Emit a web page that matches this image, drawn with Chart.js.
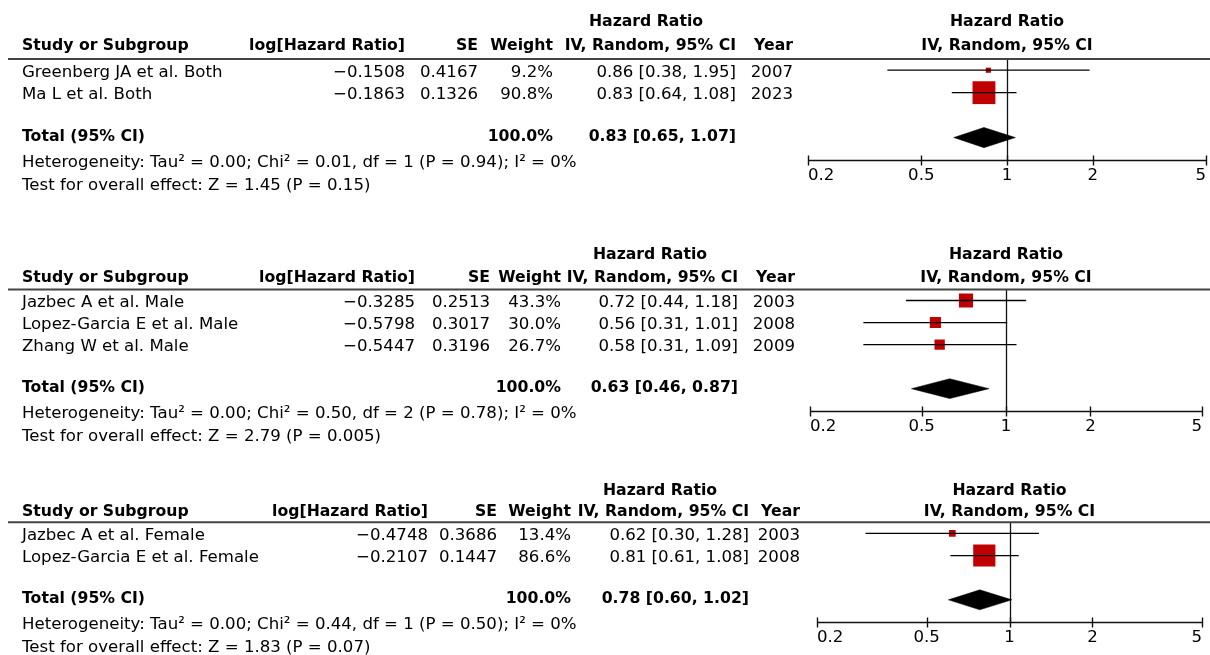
<!DOCTYPE html>
<html>
<head>
<meta charset="utf-8">
<script src="https://cdn.jsdelivr.net/npm/chart.js@4.4.1/dist/chart.umd.min.js"></script>
<style>
  html, body { margin: 0; padding: 0; background: #fff; }
  #wrap { position: relative; width: 1210px; height: 655px; overflow: hidden; }
  #wrap canvas { position: absolute; left: 0; top: 0; }
</style>
</head>
<body>
<div id="wrap">
  <canvas id="p1" width="1210" height="655"></canvas>
  <canvas id="p2" width="1210" height="655"></canvas>
  <canvas id="p3" width="1210" height="655"></canvas>
</div>
<script>
'use strict';

/* eje común (HR, escala log) */
const tickVals = [0.2, 0.5, 1, 2, 5];
const tickLabels = ['0.2', '0.5', '1', '2', '5'];

/* ambos sexos */
const bothStudy  = ['Greenberg JA et al. Both', 'Ma L et al. Both'];
const bothLogHR  = [-0.1508, -0.1863];
const bothSE     = [0.4167, 0.1326];
const bothWeight = [9.2, 90.8];
const bothHR     = [0.86, 0.83];
const bothLo     = [0.38, 0.64];
const bothHi     = [1.95, 1.08];
const bothYear   = [2007, 2023];
const bothTotal  = [0.83, 0.65, 1.07];
const bothHet    = ['0.00', '0.01', '1', '0.94', '0'];
const bothZ      = ['1.45', '0.15'];

/* hombres */
const maleStudy  = ['Jazbec A et al. Male', 'Lopez-Garcia E et al. Male', 'Zhang W et al. Male'];
const maleLogHR  = [-0.3285, -0.5798, -0.5447];
const maleSE     = [0.2513, 0.3017, 0.3196];
const maleWeight = [43.3, 30.0, 26.7];
const maleHR     = [0.72, 0.56, 0.58];
const maleLo     = [0.44, 0.31, 0.31];
const maleHi     = [1.18, 1.01, 1.09];
const maleYear   = [2003, 2008, 2009];
const maleTotal  = [0.63, 0.46, 0.87];
const maleHet    = ['0.00', '0.50', '2', '0.78', '0'];
const maleZ      = ['2.79', '0.005'];

/* mujeres */
const femStudy  = ['Jazbec A et al. Female', 'Lopez-Garcia E et al. Female'];
const femLogHR  = [-0.4748, -0.2107];
const femSE     = [0.3686, 0.1447];
const femWeight = [13.4, 86.6];
const femHR     = [0.62, 0.81];
const femLo     = [0.30, 0.61];
const femHi     = [1.28, 1.08];
const femYear   = [2003, 2008];
const femTotal  = [0.78, 0.60, 1.02];
const femHet    = ['0.00', '0.44', '1', '0.50', '0'];
const femZ      = ['1.83', '0.07'];

/* paneles: datos + posición en la página */
const panels = [
  { id: 'p1', study: bothStudy, logHR: bothLogHR, se: bothSE, weight: bothWeight, hr: bothHR, lo: bothLo, hi: bothHi, year: bothYear, total: bothTotal, het: bothHet, z: bothZ,
    box: { l: 808, r: 1206, top: 59, bot: 160 }, cols: { log: 405, se: 478, wt: 553, ci: 736, hr: 646, yr: 793 }, head: [-37, -13] },
  { id: 'p2', study: maleStudy, logHR: maleLogHR, se: maleSE, weight: maleWeight, hr: maleHR, lo: maleLo, hi: maleHi, year: maleYear, total: maleTotal, het: maleHet, z: maleZ,
    box: { l: 810, r: 1202, top: 289.5, bot: 410.7 }, cols: { log: 415, se: 490, wt: 561, ci: 738, hr: 650, yr: 795 }, head: [-35, -12] },
  { id: 'p3', study: femStudy, logHR: femLogHR, se: femSE, weight: femWeight, hr: femHR, lo: femLo, hi: femHi, year: femYear, total: femTotal, het: femHet, z: femZ,
    box: { l: 817, r: 1202, top: 522.3, bot: 622 }, cols: { log: 428, se: 497, wt: 571, ci: 749, hr: 660, yr: 800 }, head: [-31.5, -10.5] },
];

const FONT = '"DejaVu Sans", sans-serif';
const FS = 16.6, FSB = 15.7;   // normal / negrita
const RED = '#C00000';
const minus = s => s.replace('-', '\u2212');
const ci = (e, l, h) => `${e.toFixed(2)} [${l.toFixed(2)}, ${h.toFixed(2)}]`;
const sqSide = w => 1.22 * Math.pow(w, 0.65);   // tamaño del cuadrado según peso

function forestPlugin(p) {
  return {
    id: 'forest',
    beforeDatasetsDraw(chart) {
      const { ctx, chartArea: a, scales: { x } } = chart;
      const px = Math.round(x.getPixelForValue(1)) + 0.5;
      ctx.save();
      ctx.strokeStyle = '#111'; ctx.lineWidth = 1.3;
      ctx.beginPath(); ctx.moveTo(px, a.top); ctx.lineTo(px, a.bottom); ctx.stroke();
      ctx.restore();
    },
    afterDraw(chart) {
      const { ctx, chartArea: a, scales: { x, y } } = chart;
      const c = p.cols;
      const n = p.study.length;
      ctx.save();
      ctx.fillStyle = '#000';
      ctx.textBaseline = 'middle';
      const t = (s, tx, ty, align = 'left', bold = false) => {
        ctx.font = bold ? `bold ${FSB}px ${FONT}` : `${FS}px ${FONT}`;
        ctx.textAlign = align;
        ctx.fillText(s, tx, ty);
      };

      // línea de cabecera
      ctx.strokeStyle = '#444'; ctx.lineWidth = 2;
      ctx.beginPath(); ctx.moveTo(8, a.top); ctx.lineTo(1210, a.top); ctx.stroke();

      // cabeceras
      const h1 = a.top + p.head[0], h2 = a.top + p.head[1];
      const mid = (a.left + a.right) / 2;
      t('Hazard Ratio', c.hr, h1, 'center', true);
      t('Hazard Ratio', mid, h1, 'center', true);
      t('Study or Subgroup', 22, h2, 'left', true);
      t('log[Hazard Ratio]', c.log, h2, 'right', true);
      t('SE', c.se, h2, 'right', true);
      t('Weight', c.wt, h2, 'right', true);
      t('IV, Random, 95% CI', c.ci, h2, 'right', true);
      t('Year', c.yr, h2, 'right', true);
      t('IV, Random, 95% CI', mid, h2, 'center', true);

      // filas de estudios
      p.study.forEach((s, i) => {
        const ry = y.getPixelForValue(i + 1) + 2;
        t(s, 22, ry);
        t(minus(p.logHR[i].toFixed(4)), c.log, ry, 'right');
        t(p.se[i].toFixed(4), c.se, ry, 'right');
        t(p.weight[i].toFixed(1) + '%', c.wt, ry, 'right');
        t(ci(p.hr[i], p.lo[i], p.hi[i]), c.ci, ry, 'right');
        t(String(p.year[i]), c.yr, ry, 'right');
      });

      // total
      const ty = y.getPixelForValue(n + 2) - 1;
      t('Total (95% CI)', 22, ty, 'left', true);
      t('100.0%', c.wt, ty, 'right', true);
      t(ci(p.total[0], p.total[1], p.total[2]), c.ci, ty, 'right', true);
      const [tau, chi, df, ph, i2] = p.het;
      t(`Heterogeneity: Tau\u00B2 = ${tau}; Chi\u00B2 = ${chi}, df = ${df} (P = ${ph}); I\u00B2 = ${i2}%`, 22, ty + 26);
      t(`Test for overall effect: Z = ${p.z[0]} (P = ${p.z[1]})`, 22, ty + 49);

      // eje x
      const ay = Math.round(a.bottom) + 0.5;
      ctx.strokeStyle = '#111'; ctx.lineWidth = 1.4;
      ctx.beginPath(); ctx.moveTo(a.left, ay); ctx.lineTo(a.right, ay);
      tickVals.forEach(v => {
        const tx = Math.round(x.getPixelForValue(v)) + 0.5;
        ctx.moveTo(tx, ay - 5); ctx.lineTo(tx, ay + 5);
      });
      ctx.stroke();
      tickVals.forEach((v, i) => {
        const tx = x.getPixelForValue(v);
        const al = i === 0 ? 'left' : i === tickVals.length - 1 ? 'right' : 'center';
        t(tickLabels[i], tx, ay + 15, al);
      });
      ctx.restore();
    },
  };
}

function build(p) {
  const n = p.study.length;
  const whiskers = p.lo.map((lo, i) => ({
    type: 'scatter', showLine: true, borderColor: '#000', borderWidth: 1.3, pointRadius: 0,
    data: [{ x: lo, y: i + 1 }, { x: p.hi[i], y: i + 1 }],
  }));
  const squares = {
    type: 'scatter', pointStyle: 'rect', backgroundColor: RED, borderWidth: 0,
    pointRadius: p.weight.map(w => sqSide(w) / Math.SQRT2),
    data: p.hr.map((v, i) => ({ x: v, y: i + 1 })),
  };
  const ty = n + 2, dh = 0.45;
  const [est, lo, hi] = p.total;
  const diamond = {
    type: 'line', fill: 'shape', backgroundColor: '#000', borderColor: '#000', borderWidth: 0.5, pointRadius: 0, tension: 0,
    data: [{ x: lo, y: ty }, { x: est, y: ty - dh }, { x: hi, y: ty }, { x: est, y: ty + dh }, { x: lo, y: ty }],
  };
  return new Chart(document.getElementById(p.id), {
    type: 'scatter',
    data: { datasets: [...whiskers, diamond, squares] },
    options: {
      responsive: false, animation: false, events: [],
      layout: { autoPadding: false, padding: { left: p.box.l, right: 1210 - p.box.r, top: p.box.top, bottom: 655 - p.box.bot } },
      plugins: { legend: { display: false }, tooltip: { enabled: false } },
      scales: {
        x: { type: 'logarithmic', min: 0.2, max: 5, display: false },
        y: { type: 'linear', min: 0.5, max: n + 3, reverse: true, display: false },
      },
    },
    plugins: [forestPlugin(p)],
  });
}

panels.forEach(build);
</script>
</body>
</html>
